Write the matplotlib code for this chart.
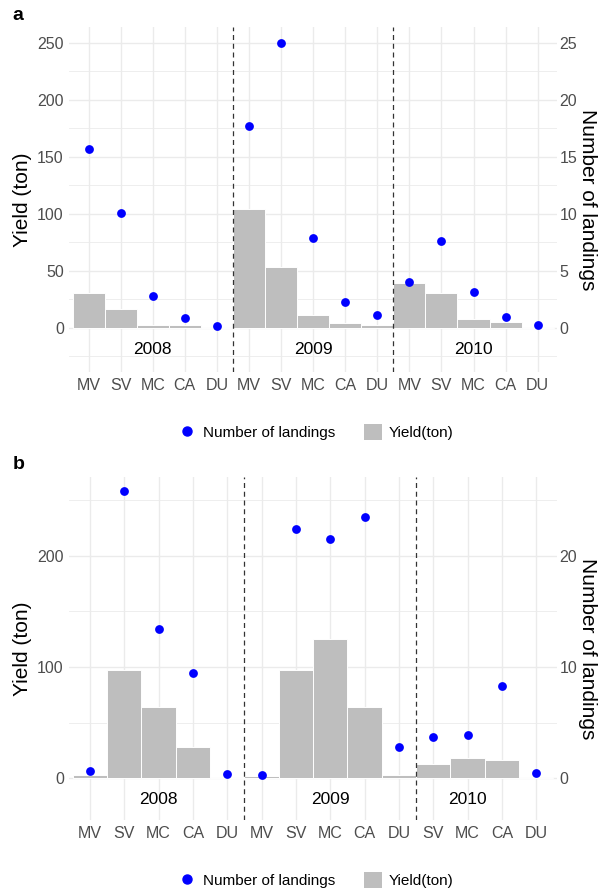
import matplotlib.pyplot as plt
from matplotlib.lines import Line2D
from matplotlib.patches import Patch

plt.rcParams['font.family'] = ['Liberation Sans', 'DejaVu Sans']

# panel a: 2008-2010, five vessel types each year
types_a = ['MV', 'SV', 'MC', 'CA', 'DU',
           'MV', 'SV', 'MC', 'CA', 'DU',
           'MV', 'SV', 'MC', 'CA', 'DU']
yield_a = [30.5, 16.9, 2.9, 2.9, 1.2,
           104, 53.8, 11, 4.7, 2.3,
           39.2, 30.5, 7.6, 4.9, 1.2]
landings_a = [15.7, 10.1, 2.8, 0.85, 0.15,
              17.7, 25.0, 7.9, 2.3, 1.1,
              4.0, 7.6, 3.2, 0.95, 0.25]
years_a = ['2008', '2009', '2010']
year_pos_a = [2, 7, 12]

# panel b: no MV in 2010
types_b = ['MV', 'SV', 'MC', 'CA', 'DU',
           'MV', 'SV', 'MC', 'CA', 'DU',
           'SV', 'MC', 'CA', 'DU']
yield_b = [3, 97.5, 63.9, 28.5, 1.5,
           2.4, 97.5, 125.6, 64.2, 3,
           12.6, 18, 16.5, 1.5]
landings_b = [0.7, 25.8, 13.4, 9.5, 0.4,
              0.27, 22.4, 21.5, 23.5, 2.8,
              3.75, 3.85, 8.3, 0.5]
years_b = ['2008', '2009', '2010']
year_pos_b = [2, 7, 11]
breaks = [4.5, 9.5]

bar_col = '#BEBEBE'
dot_col = '#0000FF'
grid_col = '#EBEBEB'
tick_col = '#4D4D4D'


def draw_panel(ax, types, yields, landings, years, year_pos, ylim, yticks, yminor):
    x = list(range(len(types)))
    ax.bar(x, yields, width=1.0, color=bar_col, edgecolor='white', linewidth=0.7, zorder=2)
    for b in breaks:
        ax.axvline(b, color='#333333', ls=(0, (4, 3)), lw=0.9, zorder=3)
    for yr, p in zip(years, year_pos):
        ax.text(p, -19, yr, ha='center', va='center', fontsize=12.5, color='black', zorder=4)

    ax.set_xlim(-0.6, len(types) - 0.4)
    ax.set_ylim(*ylim)
    ax.set_xticks(x)
    ax.set_xticklabels(types)
    ax.set_yticks(yticks)
    ax.set_yticks(yminor, minor=True)
    ax.grid(True, which='major', color=grid_col, lw=1.0)
    ax.grid(True, which='minor', axis='y', color=grid_col, lw=0.6)
    ax.set_axisbelow(True)
    ax.tick_params(which='both', length=0, labelsize=11.5, labelcolor=tick_col, pad=4)
    ax.set_ylabel('Yield (ton)', fontsize=15, va='center')
    ax.yaxis.set_label_coords(-0.096, 0.5)
    for s in ax.spines.values():
        s.set_visible(False)

    ax2 = ax.twinx()
    ax2.scatter(x, landings, s=40, color=dot_col, zorder=5, linewidths=0)
    ax2.set_ylim(ylim[0] / 10, ylim[1] / 10)
    ax2.set_yticks([t / 10 for t in yticks])
    ax2.tick_params(length=0, labelsize=11.5, labelcolor=tick_col, pad=2)
    ax2.set_ylabel('Number of landings', fontsize=15, rotation=270, va='center')
    ax2.yaxis.set_label_coords(1.063, 0.5)
    for s in ax2.spines.values():
        s.set_visible(False)
    return ax2


fig = plt.figure(figsize=(6.08, 8.91), dpi=100)

ax_a = fig.add_axes([0.114, 0.5825, 0.802, 0.3872])
draw_panel(ax_a, types_a, yield_a, landings_a, years_a, year_pos_a,
           (-38.6, 264), [0, 50, 100, 150, 200, 250], [-25, 25, 75, 125, 175, 225])

ax_b = fig.add_axes([0.114, 0.0797, 0.802, 0.385])
draw_panel(ax_b, types_b, yield_b, landings_b, years_b, year_pos_b,
           (-37.5, 271), [0, 100, 200], [50, 150, 250])

handles = [Line2D([], [], marker='o', color=dot_col, ls='', markersize=6.5),
           Patch(facecolor=bar_col, edgecolor='none')]
labels = ['Number of landings', 'Yield(ton)']
for yc in [1 - 432 / 891, 1 - 880 / 891]:
    fig.legend(handles, labels, loc='center', bbox_to_anchor=(0.519, yc), ncol=2,
               frameon=False, fontsize=11, handlelength=1.2, handleheight=1.2,
               handletextpad=0.4, columnspacing=1.9)

fig.text(0.021, 1 - 15 / 891, 'a', fontsize=14, fontweight='bold', va='center')
fig.text(0.021, 1 - 465 / 891, 'b', fontsize=14, fontweight='bold', va='center')

fig.savefig('out.png', dpi=100)
